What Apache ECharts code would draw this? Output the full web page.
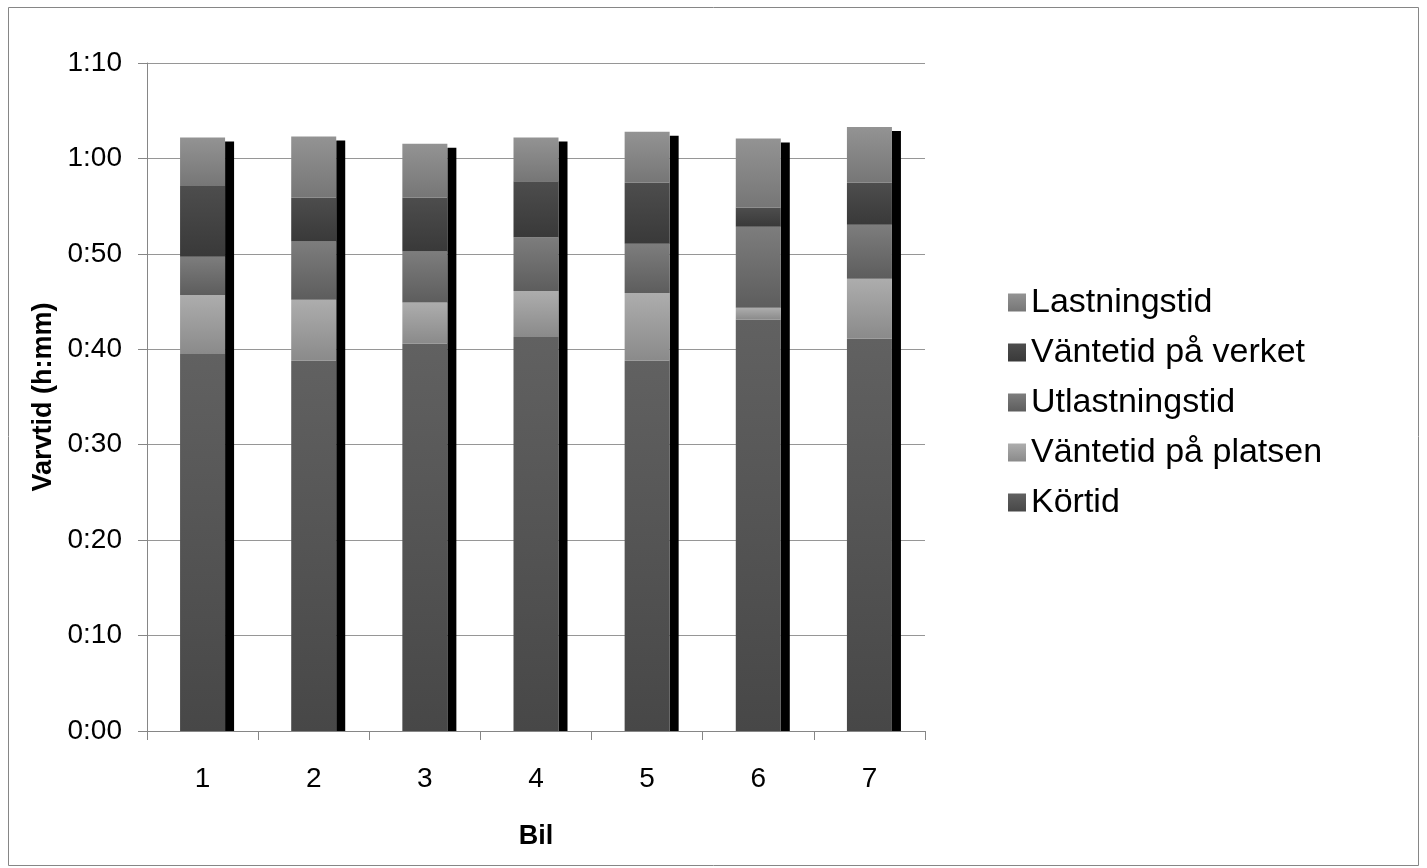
<!DOCTYPE html>
<html>
<head>
<meta charset="utf-8">
<script src="https://cdn.jsdelivr.net/npm/echarts@6/dist/echarts.min.js"></script>
<style>
html,body{margin:0;padding:0;background:#fff;}
#chart{width:1427px;height:868px;}
</style>
</head>
<body>
<div id="chart"></div>
<script>
// Categories (Bil)
const categories = ['1', '2', '3', '4', '5', '6', '7'];
// Values in minutes
const kortid       = [39.5, 38.8, 40.6, 41.3, 38.8, 43.1, 41.1];
const vantePlatsen = [6.2, 6.4, 4.3, 4.8, 7.1, 1.25, 6.3];
const utlastning   = [4.0, 6.1, 5.35, 5.65, 5.15, 8.5, 5.65];
const vanteVerket  = [7.4, 4.6, 5.65, 5.85, 6.4, 2.0, 4.4];
const lastning     = [5.1, 6.4, 5.65, 4.6, 5.35, 7.25, 5.85];
const seriesNames  = ['Körtid', 'Väntetid på platsen', 'Utlastningstid', 'Väntetid på verket', 'Lastningstid'];
const legendOrder  = ['Lastningstid', 'Väntetid på verket', 'Utlastningstid', 'Väntetid på platsen', 'Körtid'];
// y axis: minutes, labelled h:mm
const yMin = 0, yMax = 70, yInterval = 10;

const FONT = "'Liberation Sans', Arial, Helvetica, sans-serif";
function grad(top, bottom) {
  return new echarts.graphic.LinearGradient(0, 0, 0, 1, [
    { offset: 0, color: top }, { offset: 1, color: bottom }
  ]);
}
const colors = [
  grad('#616161', '#474747'),
  grad('#adadad', '#8a8a8a'),
  grad('#7d7d7d', '#5d5d5d'),
  grad('#4d4d4d', '#393939'),
  grad('#939393', '#767676')
];
const values = [kortid, vantePlatsen, utlastning, vanteVerket, lastning];
const totals = categories.map((c, i) => values.reduce((s, arr) => s + arr[i], 0));

function fmt(v) {
  const h = Math.floor(v / 60), m = Math.round(v % 60);
  return h + ':' + (m < 10 ? '0' + m : m);
}

const barSeries = seriesNames.map((name, k) => ({
  name: name,
  type: 'bar',
  stack: 'total',
  barWidth: '40.5%',
  z: 3,
  itemStyle: { color: colors[k] },
  data: values[k]
}));

const shadowSeries = {
  type: 'custom',
  name: 'shadow',
  z: 2,
  silent: true,
  data: categories.map((c, i) => [i, totals[i]]),
  encode: { x: 0, y: 1 },
  renderItem: function (params, api) {
    const top = api.coord([api.value(0), api.value(1)]);
    const base = api.coord([api.value(0), 0]);
    const bw = api.size([1, 0])[0];
    const barW = bw * 0.405;
    return {
      type: 'rect',
      shape: { x: top[0] + barW / 2, y: top[1] + 4, width: bw * 0.081, height: base[1] - top[1] - 4 },
      style: { fill: '#000' }
    };
  }
};

const chart = echarts.init(document.getElementById('chart'), null, { renderer: 'canvas' });
chart.setOption({
  backgroundColor: '#fff',
  animation: false,
  textStyle: { fontFamily: FONT },
  graphic: [{
    type: 'rect',
    shape: { x: 8.5, y: 7.5, width: 1410, height: 858 },
    style: { fill: 'none', stroke: '#868686', lineWidth: 1 },
    silent: true
  }],
  grid: { left: 147, right: 502, top: 63, bottom: 137 },
  legend: {
    orient: 'vertical',
    left: 1003,
    top: 279,
    itemWidth: 18,
    itemHeight: 18,
    itemGap: 13,
    icon: 'rect',
    data: legendOrder,
    textStyle: { fontSize: 34, color: '#000', fontFamily: FONT, lineHeight: 37, padding: [0, 0, 0, 0] }
  },
  xAxis: {
    type: 'category',
    data: categories,
    name: 'Bil',
    nameLocation: 'middle',
    nameGap: 92,
    nameTextStyle: { fontSize: 27, fontWeight: 'bold', color: '#000', fontFamily: FONT },
    axisLine: { lineStyle: { color: '#868686', width: 1 } },
    axisTick: { show: true, length: 9, lineStyle: { color: '#868686' } },
    axisLabel: { fontSize: 28, color: '#000', margin: 34, fontFamily: FONT },
    splitLine: { show: false }
  },
  yAxis: {
    type: 'value',
    min: yMin,
    max: yMax,
    interval: yInterval,
    name: 'Varvtid (h:mm)',
    nameLocation: 'middle',
    nameGap: 86,
    nameTextStyle: { fontSize: 27, fontWeight: 'bold', color: '#000', fontFamily: FONT },
    axisLine: { show: true, lineStyle: { color: '#868686', width: 1 } },
    axisTick: { show: true, length: 9, lineStyle: { color: '#868686' } },
    axisLabel: { fontSize: 28, color: '#000', margin: 25, fontFamily: FONT, formatter: fmt },
    splitLine: { show: true, lineStyle: { color: '#969696', width: 1 } }
  },
  series: [shadowSeries].concat(barSeries)
});
</script>
</body>
</html>
